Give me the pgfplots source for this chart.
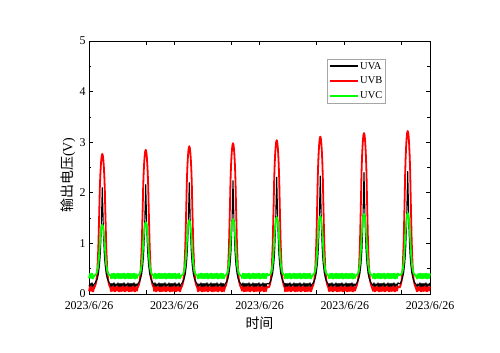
\documentclass[border=0pt]{standalone}
\usepackage{fontspec}
\setmainfont{Liberation Serif}
\newfontfamily\cjk{Noto Sans CJK SC}
\usepackage{pgfplots}
\pgfplotsset{compat=1.18}
\usepackage{pgfplotstable}
\pgfplotstableread{
x a b c
0 0.15 0.055 0.31
1 0.21 0.145 0.40
2 0.16 0.06 0.315
3 0.22 0.15 0.405
4 0.15 0.05 0.305
5.3 0.20 0.13 0.365
6.3 0.22 0.17 0.375
7.3 0.26 0.25 0.40
8.3 0.30 0.45 0.46
9.3 0.39 0.90 0.58
10.3 0.55 1.65 0.81
10.8 0.66 2.08 0.96
11.3 0.81 2.34 1.12
11.8 1.04 2.53 1.22
12.3 1.33 2.66 1.30
12.8 1.72 2.74 1.35
13.3 2.10 2.77 1.37
13.8 1.72 2.74 1.35
14.3 1.33 2.66 1.30
14.8 1.04 2.53 1.22
15.3 0.81 2.34 1.12
15.8 0.66 2.08 0.96
16.3 0.55 1.65 0.81
17.3 0.39 0.90 0.58
18.3 0.30 0.45 0.46
19.3 0.26 0.25 0.40
20.3 0.22 0.17 0.375
21.3 0.20 0.13 0.365
22 0.15 0.055 0.31
23 0.21 0.145 0.40
24 0.16 0.06 0.315
25 0.22 0.15 0.405
26 0.15 0.05 0.305
27 0.20 0.14 0.395
28 0.16 0.065 0.315
29 0.22 0.15 0.405
30 0.145 0.05 0.31
31 0.21 0.145 0.40
32 0.15 0.055 0.31
33 0.21 0.145 0.40
34 0.16 0.06 0.315
35 0.22 0.15 0.405
36 0.15 0.05 0.305
37 0.20 0.14 0.395
38 0.16 0.065 0.315
39 0.22 0.15 0.405
40 0.145 0.05 0.31
41 0.21 0.145 0.40
42 0.15 0.055 0.31
43 0.21 0.145 0.40
44 0.16 0.06 0.315
45 0.22 0.15 0.405
46 0.15 0.05 0.305
47 0.20 0.14 0.395
48 0.16 0.065 0.315
48.7 0.20 0.13 0.365
49.7 0.22 0.17 0.375
50.7 0.26 0.25 0.40
51.7 0.31 0.46 0.46
52.7 0.40 0.93 0.59
53.7 0.56 1.70 0.83
54.2 0.68 2.14 0.99
54.7 0.83 2.41 1.15
55.2 1.07 2.60 1.26
55.7 1.37 2.74 1.35
56.2 1.76 2.82 1.40
56.7 2.16 2.85 1.42
57.2 1.76 2.82 1.40
57.7 1.37 2.74 1.35
58.2 1.07 2.60 1.26
58.7 0.83 2.41 1.15
59.2 0.68 2.14 0.99
59.7 0.56 1.70 0.83
60.7 0.40 0.93 0.59
61.7 0.31 0.46 0.46
62.7 0.26 0.25 0.40
63.7 0.22 0.17 0.375
64.7 0.20 0.13 0.365
65 0.16 0.06 0.315
66 0.22 0.15 0.405
67 0.15 0.05 0.305
68 0.20 0.14 0.395
69 0.16 0.065 0.315
70 0.22 0.15 0.405
71 0.145 0.05 0.31
72 0.21 0.145 0.40
73 0.15 0.055 0.31
74 0.21 0.145 0.40
75 0.16 0.06 0.315
76 0.22 0.15 0.405
77 0.15 0.05 0.305
78 0.20 0.14 0.395
79 0.16 0.065 0.315
80 0.22 0.15 0.405
81 0.145 0.05 0.31
82 0.21 0.145 0.40
83 0.15 0.055 0.31
84 0.21 0.145 0.40
85 0.16 0.06 0.315
86 0.22 0.15 0.405
87 0.15 0.05 0.305
88 0.20 0.14 0.395
89 0.16 0.065 0.315
90 0.22 0.15 0.405
91 0.145 0.05 0.31
92.3 0.20 0.13 0.365
93.3 0.22 0.17 0.375
94.3 0.26 0.25 0.40
95.3 0.31 0.47 0.47
96.3 0.40 0.95 0.60
97.3 0.56 1.74 0.85
97.8 0.69 2.19 1.02
98.3 0.85 2.47 1.18
98.8 1.09 2.67 1.29
99.3 1.39 2.81 1.38
99.8 1.80 2.89 1.44
100.3 2.20 2.92 1.46
100.8 1.80 2.89 1.44
101.3 1.39 2.81 1.38
101.8 1.09 2.67 1.29
102.3 0.85 2.47 1.18
102.8 0.69 2.19 1.02
103.3 0.56 1.74 0.85
104.3 0.40 0.95 0.60
105.3 0.31 0.47 0.47
106.3 0.26 0.25 0.40
107.3 0.22 0.17 0.375
108.3 0.20 0.13 0.365
109 0.15 0.05 0.305
110 0.20 0.14 0.395
111 0.16 0.065 0.315
112 0.22 0.15 0.405
113 0.145 0.05 0.31
114 0.21 0.145 0.40
115 0.15 0.055 0.31
116 0.21 0.145 0.40
117 0.16 0.06 0.315
118 0.22 0.15 0.405
119 0.15 0.05 0.305
120 0.20 0.14 0.395
121 0.16 0.065 0.315
122 0.22 0.15 0.405
123 0.145 0.05 0.31
124 0.21 0.145 0.40
125 0.15 0.055 0.31
126 0.21 0.145 0.40
127 0.16 0.06 0.315
128 0.22 0.15 0.405
129 0.15 0.05 0.305
130 0.20 0.14 0.395
131 0.16 0.065 0.315
132 0.22 0.15 0.405
133 0.145 0.05 0.31
134 0.21 0.145 0.40
135 0.15 0.055 0.31
136 0.20 0.13 0.365
137 0.22 0.17 0.375
138 0.26 0.26 0.40
139 0.31 0.47 0.47
140 0.41 0.96 0.60
141 0.57 1.77 0.86
141.5 0.70 2.23 1.03
142 0.86 2.52 1.20
142.5 1.11 2.72 1.31
143 1.42 2.86 1.40
143.5 1.83 2.95 1.46
144 2.24 2.98 1.48
144.5 1.83 2.95 1.46
145 1.42 2.86 1.40
145.5 1.11 2.72 1.31
146 0.86 2.52 1.20
146.5 0.70 2.23 1.03
147 0.57 1.77 0.86
148 0.41 0.96 0.60
149 0.31 0.47 0.47
150 0.26 0.26 0.40
151 0.22 0.17 0.375
152 0.20 0.13 0.365
153 0.16 0.065 0.315
154 0.22 0.15 0.405
155 0.145 0.05 0.31
156 0.21 0.145 0.40
157 0.15 0.055 0.31
158 0.21 0.145 0.40
159 0.16 0.06 0.315
160 0.22 0.15 0.405
161 0.15 0.05 0.305
162 0.20 0.14 0.395
163 0.16 0.065 0.315
164 0.22 0.15 0.405
165 0.145 0.05 0.31
166 0.21 0.145 0.40
167 0.15 0.055 0.31
168 0.21 0.145 0.40
169 0.16 0.06 0.315
170 0.22 0.15 0.405
171 0.15 0.05 0.305
172 0.20 0.14 0.395
173 0.16 0.065 0.315
174 0.22 0.15 0.405
175 0.145 0.05 0.31
176 0.21 0.145 0.40
177 0.15 0.055 0.31
178 0.21 0.145 0.40
179.7 0.20 0.13 0.365
180.7 0.22 0.17 0.38
181.7 0.26 0.26 0.41
182.7 0.32 0.48 0.47
183.7 0.41 0.98 0.61
184.7 0.59 1.81 0.88
185.2 0.71 2.28 1.05
185.7 0.88 2.57 1.23
186.2 1.14 2.78 1.35
186.7 1.46 2.92 1.44
187.2 1.88 3.01 1.50
187.7 2.31 3.04 1.52
188.2 1.88 3.01 1.50
188.7 1.46 2.92 1.44
189.2 1.14 2.78 1.35
189.7 0.88 2.57 1.23
190.2 0.71 2.28 1.05
190.7 0.59 1.81 0.88
191.7 0.41 0.98 0.61
192.7 0.32 0.48 0.47
193.7 0.26 0.26 0.41
194.7 0.22 0.17 0.38
195.7 0.20 0.13 0.365
196 0.145 0.05 0.31
197 0.21 0.145 0.40
198 0.15 0.055 0.31
199 0.21 0.145 0.40
200 0.16 0.06 0.315
201 0.22 0.15 0.405
202 0.15 0.05 0.305
203 0.20 0.14 0.395
204 0.16 0.065 0.315
205 0.22 0.15 0.405
206 0.145 0.05 0.31
207 0.21 0.145 0.40
208 0.15 0.055 0.31
209 0.21 0.145 0.40
210 0.16 0.06 0.315
211 0.22 0.15 0.405
212 0.15 0.05 0.305
213 0.20 0.14 0.395
214 0.16 0.065 0.315
215 0.22 0.15 0.405
216 0.145 0.05 0.31
217 0.21 0.145 0.40
218 0.15 0.055 0.31
219 0.21 0.145 0.40
220 0.16 0.06 0.315
221 0.22 0.15 0.405
222 0.15 0.05 0.305
223.3 0.20 0.13 0.365
224.3 0.22 0.18 0.38
225.3 0.26 0.27 0.41
226.3 0.32 0.49 0.47
227.3 0.42 1.00 0.62
228.3 0.59 1.85 0.89
228.8 0.72 2.33 1.07
229.3 0.89 2.63 1.24
229.8 1.15 2.84 1.36
230.3 1.47 2.99 1.46
230.8 1.90 3.08 1.52
231.3 2.33 3.11 1.54
231.8 1.90 3.08 1.52
232.3 1.47 2.99 1.46
232.8 1.15 2.84 1.36
233.3 0.89 2.63 1.24
233.8 0.72 2.33 1.07
234.3 0.59 1.85 0.89
235.3 0.42 1.00 0.62
236.3 0.32 0.49 0.47
237.3 0.26 0.27 0.41
238.3 0.22 0.18 0.38
239.3 0.20 0.13 0.365
240 0.15 0.055 0.31
241 0.21 0.145 0.40
242 0.16 0.06 0.315
243 0.22 0.15 0.405
244 0.15 0.05 0.305
245 0.20 0.14 0.395
246 0.16 0.065 0.315
247 0.22 0.15 0.405
248 0.145 0.05 0.31
249 0.21 0.145 0.40
250 0.15 0.055 0.31
251 0.21 0.145 0.40
252 0.16 0.06 0.315
253 0.22 0.15 0.405
254 0.15 0.05 0.305
255 0.20 0.14 0.395
256 0.16 0.065 0.315
257 0.22 0.15 0.405
258 0.145 0.05 0.31
259 0.21 0.145 0.40
260 0.15 0.055 0.31
261 0.21 0.145 0.40
262 0.16 0.06 0.315
263 0.22 0.15 0.405
264 0.15 0.05 0.305
265 0.20 0.14 0.395
266 0.16 0.065 0.315
267 0.20 0.13 0.37
268 0.22 0.18 0.38
269 0.27 0.27 0.41
270 0.32 0.50 0.48
271 0.42 1.02 0.62
272 0.60 1.89 0.91
272.5 0.74 2.38 1.09
273 0.91 2.69 1.27
273.5 1.18 2.90 1.40
274 1.51 3.06 1.49
274.5 1.96 3.15 1.56
275 2.40 3.18 1.58
275.5 1.96 3.15 1.56
276 1.51 3.06 1.49
276.5 1.18 2.90 1.40
277 0.91 2.69 1.27
277.5 0.74 2.38 1.09
278 0.60 1.89 0.91
279 0.42 1.02 0.62
280 0.32 0.50 0.48
281 0.27 0.27 0.41
282 0.22 0.18 0.38
283 0.20 0.13 0.37
284 0.16 0.06 0.315
285 0.22 0.15 0.405
286 0.15 0.05 0.305
287 0.20 0.14 0.395
288 0.16 0.065 0.315
289 0.22 0.15 0.405
290 0.145 0.05 0.31
291 0.21 0.145 0.40
292 0.15 0.055 0.31
293 0.21 0.145 0.40
294 0.16 0.06 0.315
295 0.22 0.15 0.405
296 0.15 0.05 0.305
297 0.20 0.14 0.395
298 0.16 0.065 0.315
299 0.22 0.15 0.405
300 0.145 0.05 0.31
301 0.21 0.145 0.40
302 0.15 0.055 0.31
303 0.21 0.145 0.40
304 0.16 0.06 0.315
305 0.22 0.15 0.405
306 0.15 0.05 0.305
307 0.20 0.14 0.395
308 0.16 0.065 0.315
309 0.22 0.15 0.405
310.7 0.20 0.13 0.37
311.7 0.22 0.18 0.38
312.7 0.27 0.27 0.41
313.7 0.33 0.51 0.48
314.7 0.43 1.04 0.63
315.7 0.61 1.91 0.92
316.2 0.74 2.41 1.10
316.7 0.92 2.72 1.29
317.2 1.19 2.94 1.41
317.7 1.52 3.10 1.51
318.2 1.97 3.19 1.58
318.7 2.42 3.22 1.60
319.2 1.97 3.19 1.58
319.7 1.52 3.10 1.51
320.2 1.19 2.94 1.41
320.7 0.92 2.72 1.29
321.2 0.74 2.41 1.10
321.7 0.61 1.91 0.92
322.7 0.43 1.04 0.63
323.7 0.33 0.51 0.48
324.7 0.27 0.27 0.41
325.7 0.22 0.18 0.38
326.7 0.20 0.13 0.37
328 0.15 0.05 0.305
329 0.20 0.14 0.395
330 0.16 0.065 0.315
331 0.22 0.15 0.405
332 0.145 0.05 0.31
333 0.21 0.145 0.40
334 0.15 0.055 0.31
335 0.21 0.145 0.40
336 0.16 0.06 0.315
337 0.22 0.15 0.405
338 0.15 0.05 0.305
339 0.20 0.14 0.395
340 0.16 0.065 0.315
341 0.22 0.15 0.405
}\uvdata
\begin{document}
\begin{tikzpicture}
\begin{axis}[
  scale only axis, width=341bp, height=253bp,
  xmin=0, xmax=341, ymin=0, ymax=5,
  clip=false,
  axis line style={line width=0.8bp},
  tick style={line width=0.8bp, black},
  tick align=inside,
  major tick length=4bp, minor tick length=2.5bp,
  xtick={0,85.25,170.5,255.75,341},
  xticklabels={2023/6/26,2023/6/26,2023/6/26,2023/6/26,2023/6/26},
  extra x ticks={57,142.25,227.5,312.75},
  extra x tick labels={},
  ytick={0,1,2,3,4,5},
  minor ytick={0.5,1.5,2.5,3.5,4.5},
  /pgf/number format/assume math mode=true,
  ticklabel style={font=\fontsize{12}{14}\selectfont},
  xticklabel style={yshift=-4bp},
  xlabel={{\cjk 时间}},
  xlabel style={font=\fontsize{14}{16}\selectfont, at={(axis description cs:0.5,-0.1146)}, anchor=center},
  ylabel={{\cjk 输出电压}(V)},
  ylabel style={font=\fontsize{14}{16}\selectfont, at={(axis description cs:-0.062,0.47)}, anchor=center},
  legend style={at={(0.698,0.929)}, anchor=north west, draw=black!35,
    font=\fontsize{10.5}{12}\selectfont, inner sep=1.5bp, row sep=3.5bp,
    nodes={inner sep=1.5bp}},
  legend cell align=left,
  legend image code/.code={\draw[#1, line width=2bp] (0bp,0bp) -- (28bp,0bp);},
]
\addplot[red, line width=1.8bp, line join=round, forget plot] table[x=x, y=b] {\uvdata};
\addplot[black, line width=1.1bp, line join=round, forget plot] table[x=x, y=a] {\uvdata};
\addplot[green, line width=1.8bp, line join=round, forget plot] table[x=x, y=c] {\uvdata};
\addlegendimage{black, line width=2bp}
\addlegendimage{red, line width=2bp}
\addlegendimage{green, line width=2bp}
\legend{UVA,UVB,UVC}
\path (rel axis cs:-0.261,-0.2332) rectangle (rel axis cs:1.2053,1.1621);
\end{axis}
\end{tikzpicture}
\end{document}
